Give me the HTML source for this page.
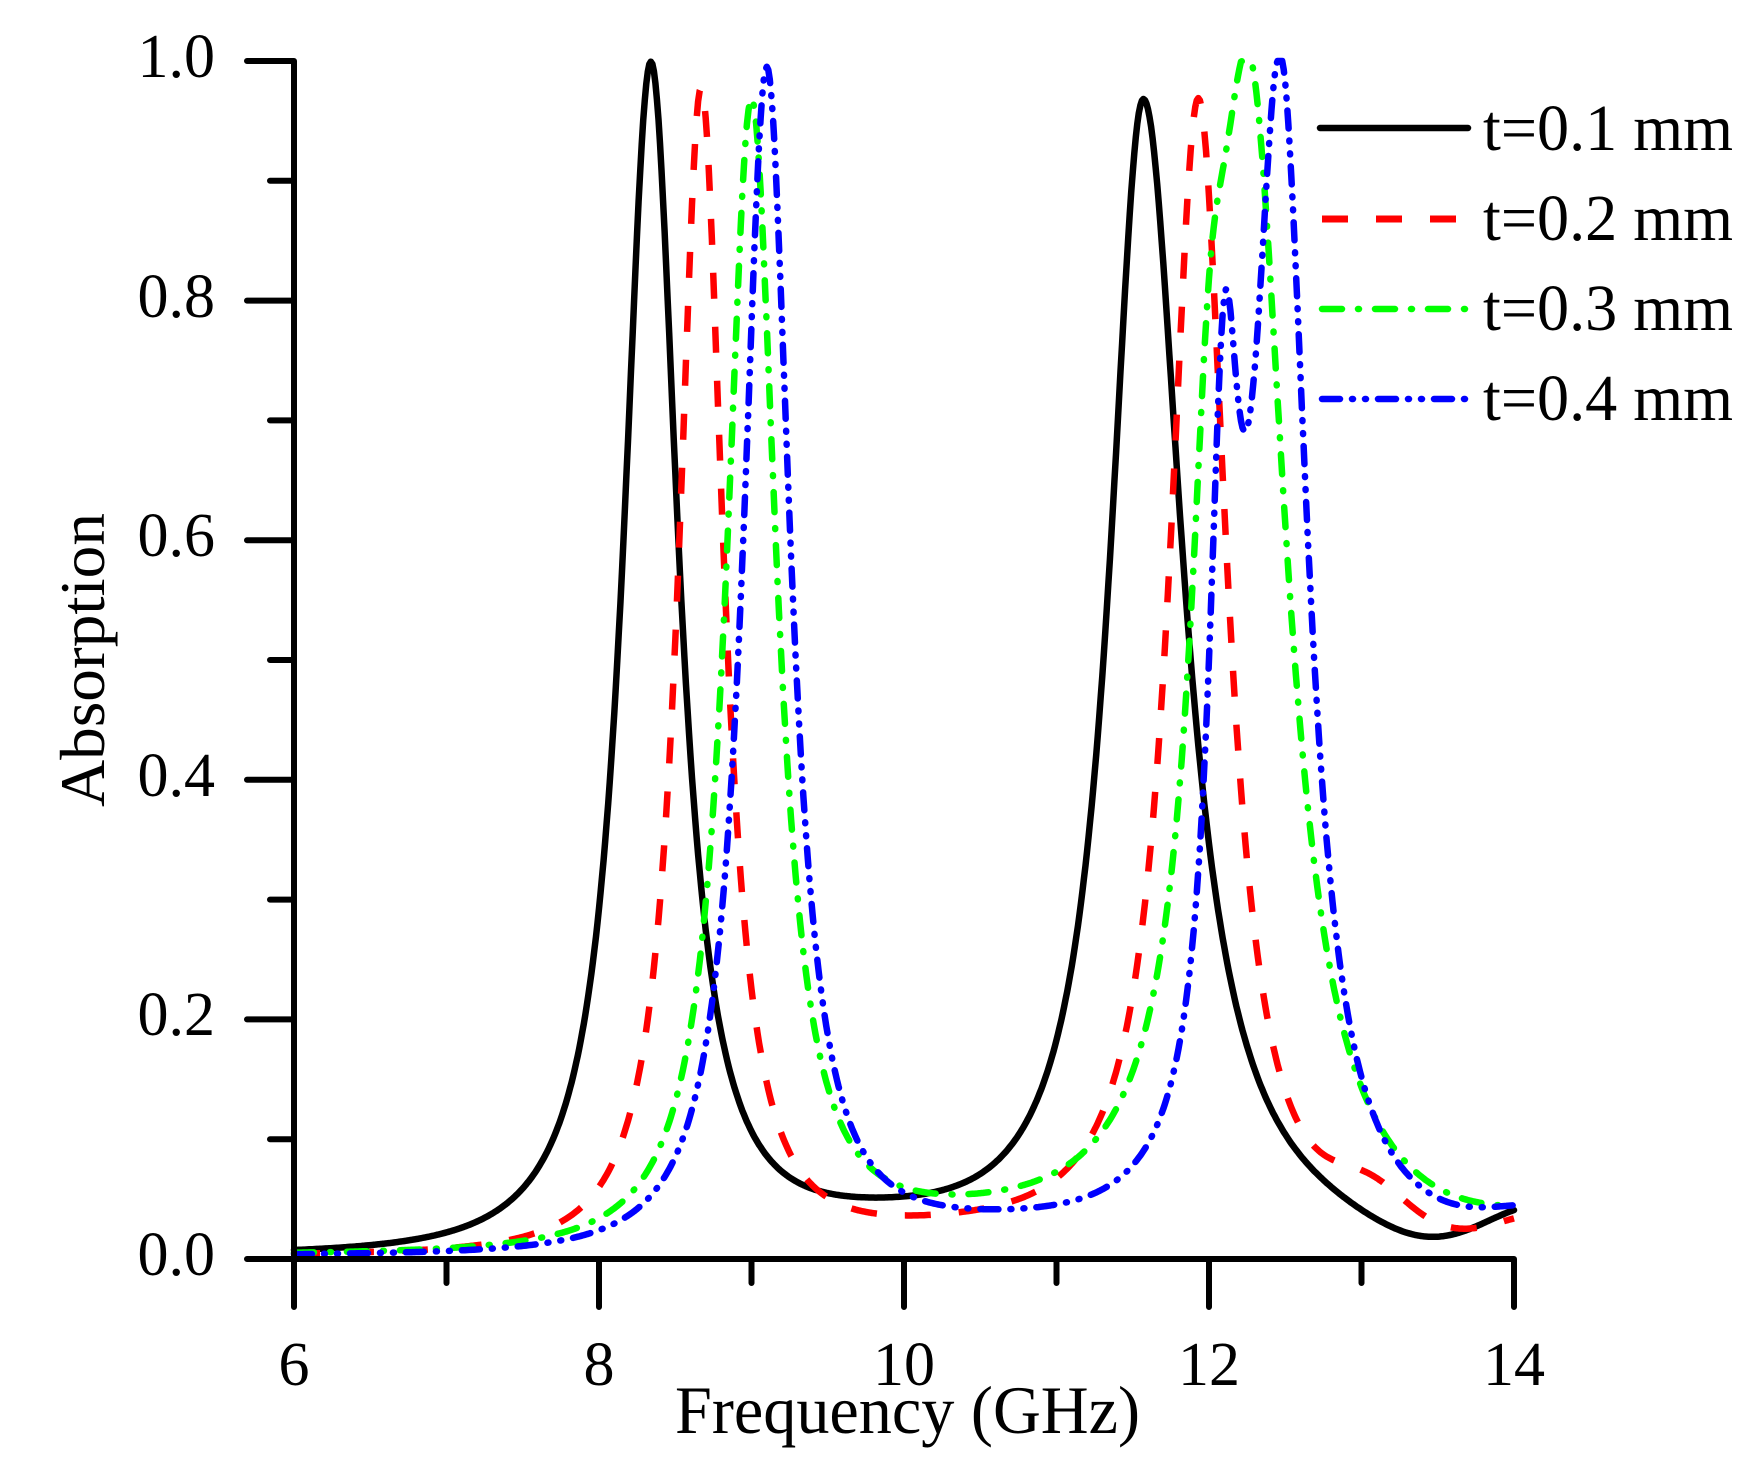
<!DOCTYPE html>
<html><head><meta charset="utf-8"><style>html,body{margin:0;padding:0;background:#fff}svg{display:block}</style></head>
<body>
<svg id="s" width="1760" height="1473" viewBox="0 0 1760 1473" xmlns="http://www.w3.org/2000/svg" font-family="'Liberation Serif', serif">
<g id="curves" fill="none" stroke-width="6.5" stroke-linejoin="round"></g>
<g id="axes" stroke="#000" stroke-width="6" stroke-linecap="round" fill="none"></g>
<g font-size="62" fill="#000">
<text x="215" y="77" text-anchor="end">1.0</text>
<text x="215" y="317" text-anchor="end">0.8</text>
<text x="215" y="556" text-anchor="end">0.6</text>
<text x="215" y="796" text-anchor="end">0.4</text>
<text x="215" y="1035" text-anchor="end">0.2</text>
<text x="215" y="1275" text-anchor="end">0.0</text>
<text x="294" y="1385" text-anchor="middle">6</text>
<text x="599" y="1385" text-anchor="middle">8</text>
<text x="904" y="1385" text-anchor="middle">10</text>
<text x="1209" y="1385" text-anchor="middle">12</text>
<text x="1514" y="1385" text-anchor="middle">14</text>
</g>
<text x="675" y="1433" font-size="68" textLength="465" lengthAdjust="spacingAndGlyphs">Frequency (GHz)</text>
<text transform="translate(104,807) rotate(-90)" font-size="64" textLength="294" lengthAdjust="spacingAndGlyphs">Absorption</text>
<g font-size="66">
<text x="1483" y="150" textLength="250" lengthAdjust="spacingAndGlyphs">t=0.1 mm</text>
<text x="1483" y="240" textLength="250" lengthAdjust="spacingAndGlyphs">t=0.2 mm</text>
<text x="1483" y="330" textLength="250" lengthAdjust="spacingAndGlyphs">t=0.3 mm</text>
<text x="1483" y="420" textLength="250" lengthAdjust="spacingAndGlyphs">t=0.4 mm</text>
</g>
<g stroke-width="6.5" stroke-linecap="round" fill="none">
<line x1="1320" y1="128" x2="1468" y2="128" stroke="#000"/>
<line x1="1322" y1="219" x2="1468" y2="219" stroke="#f00" stroke-dasharray="26 28" stroke-linecap="butt" stroke-width="7"/>
<line x1="1322" y1="309" x2="1468" y2="309" stroke="#0f0" stroke-dasharray="20 16 1 16"/>
<line x1="1322" y1="399" x2="1468" y2="399" stroke="#00f" stroke-dasharray="18 12 1 12 1 12"/>
</g>
</svg>
<script>
var X=function(f){return 294+152.5*(f-6)};
var Y=function(v){return 1259-1198*v};
function L(f,c,w,h){var d=(f-c)/w;return h/(1+d*d)}
function A(f,c,wl,wr,h){return L(f,c,f<c?wl:wr,h)}
function K(f,c,w,h){var d=(f-c)/w,d2=d*d;return h/(1+d2+0.015*d2*d2)}
function G(f,c,s,a){var d=f-c;return a*Math.exp(-d*d/(2*s*s))}
var series=[
 {col:"#000",dash:"",cap:"round",fn:function(f){return 0.002+G(f,9.8,0.6,0.014)+K(f,8.34,0.22,0.99)+A(f,11.57,0.27,0.32,0.965)-G(f,13.4,0.35,0.014)+G(f,14.2,0.35,0.03)}},
 {col:"#f00",dash:"26 28",cap:"butt",fn:function(f){return 0.002+G(f,10.3,0.8,0.012)+K(f,8.67,0.18,0.97)+L(f,11.93,0.23,0.965)+G(f,13.05,0.25,0.03)+G(f,14.2,0.3,0.025)}},
 {col:"#0f0",dash:"20 16 1 16",cap:"round",fn:function(f){return 0.002+G(f,10.4,0.8,0.015)+K(f,9.0,0.2,0.955)+L(f,12.27,0.3,0.93)+L(f,12.0,0.15,0.3)+G(f,14.2,0.35,0.015)}},
 {col:"#00f",dash:"18 12 1 12 1 12",cap:"round",fn:function(f){return 0.002+G(f,10.5,0.8,0.015)+K(f,9.1,0.19,0.985)+L(f,12.47,0.22,0.95)+L(f,12.1,0.12,0.55)+G(f,14.2,0.35,0.025)}}
];
var g=document.getElementById("curves"),ns="http://www.w3.org/2000/svg";
series.forEach(function(s){
 var d="";for(var i=0;i<=800;i++){var f=6+8*i/800;var v=Math.min(s.fn(f),1.0);d+=(i?"L":"M")+X(f).toFixed(1)+","+Y(v).toFixed(1);}
 var p=document.createElementNS(ns,"path");p.setAttribute("d",d);p.setAttribute("stroke",s.col);p.setAttribute("stroke-linecap",s.cap);
 if(s.dash)p.setAttribute("stroke-dasharray",s.dash);g.appendChild(p);
});
var a=document.getElementById("axes"),path="M294,61V1307M247,1259H1514";
for(var k=0;k<=10;k++){var y=Y(k/10);path+="M294,"+y+"H"+(k%2?270:247);}
for(var f=7;f<=14;f++){var x=X(f);path+="M"+x+",1259V"+(f%2?1283:1307);}
var q=document.createElementNS(ns,"path");q.setAttribute("d",path);a.appendChild(q);
</script>
</body></html>
